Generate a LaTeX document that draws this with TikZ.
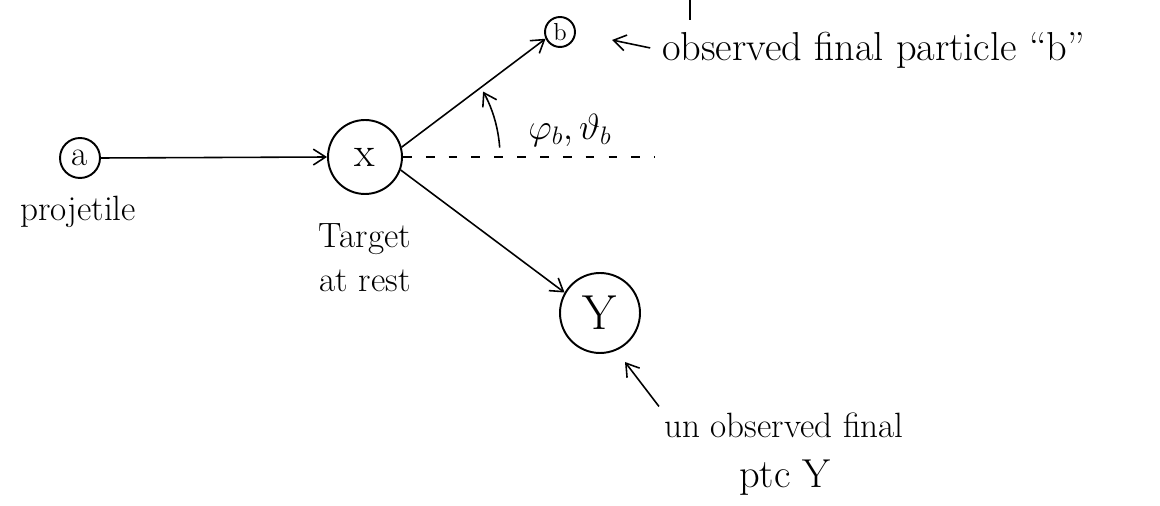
\documentclass[tikz,border=0pt]{standalone}
\usetikzlibrary{arrows.meta}
\begin{document}
\begin{tikzpicture}[x=0.02cm,y=-0.02cm,
  ptc/.style={circle,draw,line width=1.1pt,inner sep=0pt},
  conn/.style={-{Straight Barb[length=7pt,width=9pt,line width=0.9pt]},line width=0.9pt},
  hand/.style={font=\fontsize{20}{25}\selectfont,inner sep=1pt}]
\useasboundingbox (0,0) rectangle (1160,506);
% particles
\node[ptc,minimum size=0.8cm,font=\fontsize{20}{24}\selectfont] (a) at (80,158) {a};
\node[ptc,minimum size=1.48cm,font=\fontsize{24}{28}\selectfont] (X) at (365,157) {x};
\node[ptc,minimum size=0.6cm,font=\fontsize{14}{16}\selectfont] (b) at (560,32) {b};
\node[ptc,minimum size=1.6cm,font=\fontsize{28}{32}\selectfont] (Y) at (600,313) {Y};
% labels
\node[hand] (proj) at (78,212) {projetile};
\node[hand,align=center] (targ) at (365,258) {Target\\at rest};
\node[hand] (ang) at (570,130) {$\varphi_b,\vartheta_b$};
\node[hand,anchor=west,font=\fontsize{23}{28}\selectfont] (obsb) at (660,50) {observed final particle ``b''};
\node[hand,anchor=west] (unobs) at (662,425) {un observed final};
\node[hand,font=\fontsize{23}{28}\selectfont] (ptcy) at (785,478) {ptc Y};
% connectors
\draw[conn] (a.east) -- (X.west);
\draw[conn] (X.15) -- (b.205);
\draw[conn] (X.-20) -- (Y.150);
\coordinate (dashend) at (655,157);
\draw[line width=0.8pt,dash pattern=on 5pt off 8pt] (X.east) -- (dashend);
\draw[conn] ([shift={(-4:135)}]X.center) arc[start angle=-4,end angle=-29,radius=135];
\coordinate (pb) at (612,40);
\draw[conn,shorten <=0.2cm] (obsb.west) -- (pb);
\coordinate (py) at (625,362);
\draw[conn,shorten <=0.1cm] (unobs.north west) -- (py);
% fragment of cut-off stroke at top
\coordinate (fragA) at (690,0);
\coordinate (fragB) at (690,20);
\draw[line width=0.9pt] (fragA) -- (fragB);
\end{tikzpicture}
\end{document}
